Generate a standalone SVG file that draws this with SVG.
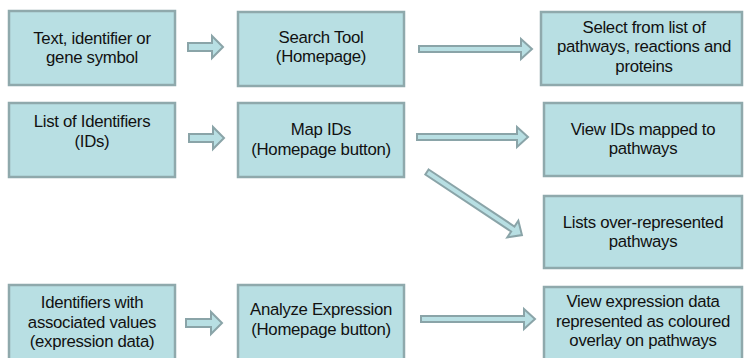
<svg xmlns="http://www.w3.org/2000/svg" width="744" height="358" viewBox="0 0 744 358">
<style>
.box{fill:#b8dfe3;stroke:#8fa9ac;stroke-width:2.5}
.arr{fill:#b8dfe3;stroke:#8aa4a8;stroke-width:2;stroke-linejoin:miter}
text{font-family:"Liberation Sans",Arial,sans-serif;font-size:16.8px;letter-spacing:-0.3px;fill:#111;text-anchor:middle}
</style>
<rect width="744" height="358" fill="#fff"/>
<g id="n-text"><rect class="box" x="9" y="11" width="166" height="74"/><text x="92" y="44">Text, identifier or</text><text x="92" y="63">gene symbol</text></g>
<g id="n-search"><rect class="box" x="238" y="12" width="166" height="74"/><text x="321" y="43">Search Tool</text><text x="321" y="62">(Homepage)</text></g>
<g id="n-select"><rect class="box" x="541" y="12" width="201" height="73"/><text x="644" y="33">Select from list of</text><text x="644" y="52">pathways, reactions and</text><text x="644" y="72">proteins</text></g>
<g id="n-list"><rect class="box" x="9" y="103" width="166" height="74"/><text x="92" y="127">List of Identifiers</text><text x="92" y="147">(IDs)</text></g>
<g id="n-map"><rect class="box" x="238" y="103" width="166" height="74"/><text x="321" y="135">Map IDs</text><text x="321" y="155">(Homepage button)</text></g>
<g id="n-view-ids"><rect class="box" x="544" y="103" width="198" height="73"/><text x="643" y="135">View IDs mapped to</text><text x="643" y="154">pathways</text></g>
<g id="n-over"><rect class="box" x="544" y="196" width="198" height="72"/><text x="643" y="228">Lists over-represented</text><text x="643" y="247">pathways</text></g>
<g id="n-ident"><rect class="box" x="9" y="285" width="166" height="80"/><text x="92" y="308">Identifiers with</text><text x="92" y="328">associated values</text><text x="92" y="347">(expression data)</text></g>
<g id="n-analyze"><rect class="box" x="238" y="285" width="166" height="80"/><text x="321" y="315">Analyze Expression</text><text x="321" y="335">(Homepage button)</text></g>
<g id="n-view-expr"><rect class="box" x="544" y="287" width="198" height="80"/><text x="643" y="307">View expression data</text><text x="643" y="327">represented as coloured</text><text x="643" y="346">overlay on  pathways</text></g>
<g id="connectors">
<polygon class="arr" points="188,43 212,43 212,36 223,47 212,58 212,51 188,51"/>
<polygon class="arr" points="419,46 521,46 521,39 532,49 521,59 521,52 419,52"/>
<polygon class="arr" points="189,134 213,134 213,127 224,138 213,149 213,142 189,142"/>
<polygon class="arr" points="417,134 517,134 517,127 528,137 517,147 517,140 417,140"/>
<polygon class="arr" transform="translate(427,172) rotate(33.6)" points="0,-3 103,-3 103,-10 114,0 103,10 103,3 0,3"/>
<polygon class="arr" points="186,319 211,319 211,312 222,323 211,334 211,327 186,327"/>
<polygon class="arr" points="421,316 524,316 524,309 535,319 524,329 524,322 421,322"/>
</g>
</svg>
